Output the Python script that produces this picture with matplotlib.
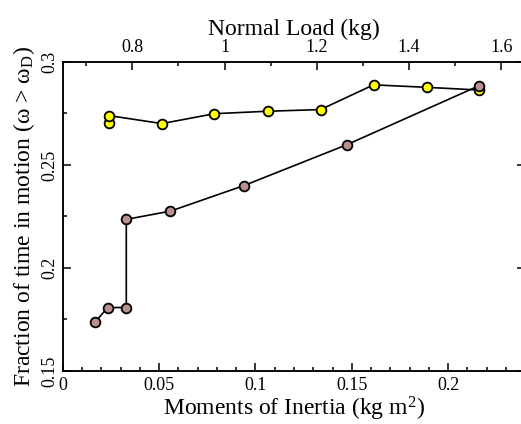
import matplotlib

matplotlib.use("Agg")

import matplotlib.pyplot as plt
from matplotlib.ticker import MultipleLocator, FixedLocator

plt.rcParams["font.family"] = ["Liberation Serif", "DejaVu Serif"]
plt.rcParams["mathtext.fontset"] = "custom"
plt.rcParams["mathtext.rm"] = "Liberation Serif"
plt.rcParams["mathtext.it"] = "Liberation Serif:italic"

# moments of inertia (bottom axis) vs fraction of time in motion
inertia = [0.0168, 0.0234, 0.033, 0.033, 0.0559, 0.094, 0.1473, 0.2158]
frac_inertia = [0.1738, 0.1808, 0.1808, 0.2236, 0.2276, 0.240, 0.2598, 0.2884]

# normal load (top axis) vs fraction of time in motion
load = [0.749, 0.749, 0.864, 0.978, 1.094, 1.208, 1.323, 1.438, 1.551]
frac_load = [0.2703, 0.274, 0.2701, 0.2749, 0.2761, 0.2769, 0.2889, 0.2877, 0.2864]

x_ticks = [0, 0.05, 0.1, 0.15, 0.2]
x_labels = ["0", "0.05", "0.1", "0.15", "0.2"]
top_ticks = [0.8, 1.0, 1.2, 1.4, 1.6]
top_labels = ["0.8", "1", "1.2", "1.4", "1.6"]
y_ticks = [0.15, 0.2, 0.25, 0.3]
y_labels = ["0.15", "0.2", "0.25", "0.3"]

fig = plt.figure(figsize=(5.21, 4.24), dpi=100)
ax = fig.add_axes([0.1203, 0.125, 0.888, 0.7288])
ax2 = ax.twiny()

ax2.plot(load, frac_load, "-o", color="black", lw=1.2,
         markerfacecolor="#ffff00", markeredgecolor="black",
         markersize=7, markeredgewidth=1.3, zorder=3)
ax.plot(inertia, frac_inertia, "-o", color="black", lw=1.2,
        markerfacecolor="#bc8f8f", markeredgecolor="black",
        markersize=7, markeredgewidth=1.3, zorder=4)
ax.set_zorder(ax2.get_zorder() + 1)
ax.patch.set_visible(False)

ax.set_xlim(0, 0.24)
ax.set_ylim(0.15, 0.3)
ax2.set_xlim(0.649, 1.652)

ax.xaxis.set_major_locator(FixedLocator(x_ticks))
ax.set_xticklabels(x_labels)
ax.xaxis.set_minor_locator(MultipleLocator(0.01))
ax.yaxis.set_major_locator(FixedLocator(y_ticks))
ax.set_yticklabels(y_labels, rotation=90, va="center")
ax.yaxis.set_minor_locator(MultipleLocator(0.025))
ax2.xaxis.set_major_locator(FixedLocator(top_ticks))
ax2.set_xticklabels(top_labels)
ax2.xaxis.set_minor_locator(MultipleLocator(0.1))

ax.tick_params(which="both", direction="in", width=1.1, labelsize=13,
               right=True, top=False)
ax.tick_params(which="major", length=6)
ax.tick_params(which="minor", length=3)
ax.tick_params(axis="x", pad=4)
ax.tick_params(axis="y", pad=3)
ax2.tick_params(which="both", direction="in", width=1.1, labelsize=13, pad=4)
ax2.tick_params(which="major", length=6)
ax2.tick_params(which="minor", length=3)

for a in (ax, ax2):
    for s in a.spines.values():
        s.set_linewidth(1.1)

ax.set_xlabel("Moments of Inertia (kg m$^2$)", fontsize=17, labelpad=1)
ax.set_ylabel("Fraction of time in motion (ω > ω$_\\mathrm{D}$)", fontsize=17,
              labelpad=3)
ax2.set_xlabel("Normal Load (kg)", fontsize=17, labelpad=3)

fig.savefig("out.png", dpi=100)
